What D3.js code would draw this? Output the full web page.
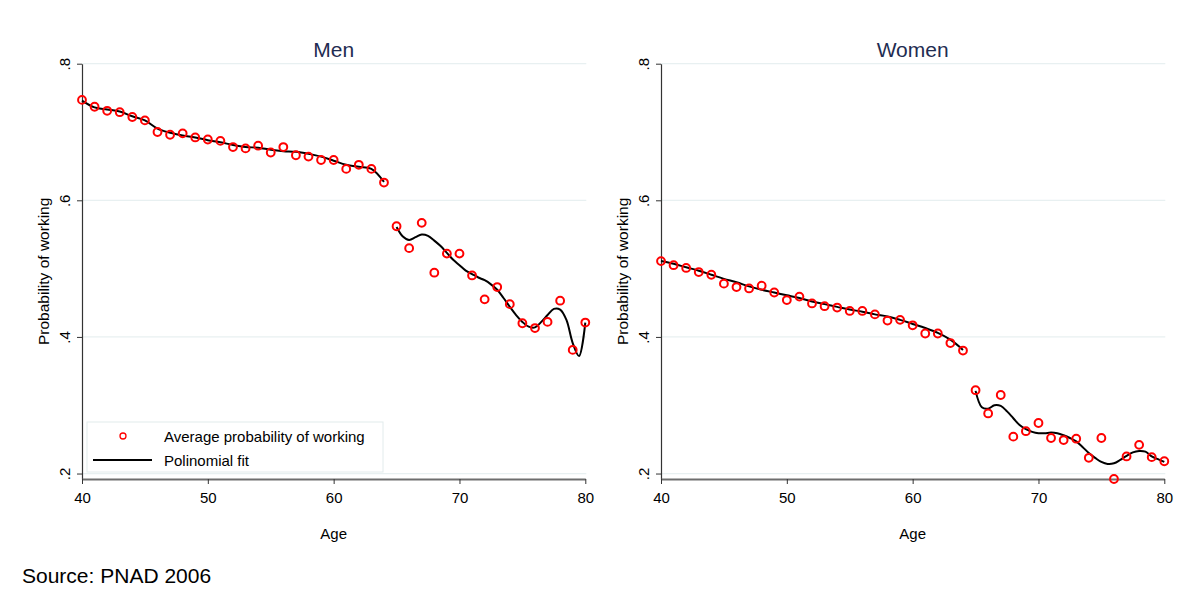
<!DOCTYPE html>
<html>
<head>
<meta charset="utf-8">
<script src="https://cdn.jsdelivr.net/npm/d3@7"></script>
<style>
  body { margin: 0; background: #fff; }
  svg text { font-family: "Liberation Sans", Arial, sans-serif; fill: #000; }
</style>
</head>
<body>
<div id="chart"></div>
<script>
// ages 40..80
const ages = d3.range(40, 81);

// average probability of working
const menAvg = [0.747, 0.737, 0.731, 0.729, 0.722, 0.717, 0.700, 0.696, 0.698, 0.692,
  0.689, 0.687, 0.678, 0.676, 0.680, 0.670, 0.678, 0.666, 0.664, 0.659,
  0.659, 0.646, 0.652, 0.646, 0.626, 0.562, 0.530, 0.567, 0.494, 0.522,
  0.522, 0.490, 0.455, 0.473, 0.448, 0.420, 0.413, 0.422, 0.453, 0.381, 0.421];
const womenAvg = [0.511, 0.505, 0.501, 0.495, 0.491, 0.478, 0.473, 0.471, 0.475, 0.465,
  0.454, 0.459, 0.449, 0.445, 0.443, 0.438, 0.438, 0.433, 0.424, 0.425,
  0.417, 0.405, 0.405, 0.391, 0.380, 0.322, 0.288, 0.315, 0.254, 0.262,
  0.274, 0.252, 0.249, 0.251, 0.223, 0.252, 0.192, 0.225, 0.242, 0.224, 0.218];

// polynomial fit, before and after 65
const fitAgesPre = d3.range(40, 65);
const menFitPre = [0.746, 0.736, 0.733, 0.730, 0.723, 0.717, 0.705, 0.699, 0.695, 0.692,
  0.688, 0.685, 0.681, 0.678, 0.677, 0.674, 0.672, 0.671, 0.668, 0.664,
  0.658, 0.652, 0.649, 0.646, 0.627];
const womenFitPre = [0.511, 0.507, 0.502, 0.497, 0.491, 0.485, 0.480, 0.474, 0.469, 0.465,
  0.461, 0.457, 0.452, 0.448, 0.444, 0.440, 0.437, 0.433, 0.430, 0.425,
  0.419, 0.413, 0.406, 0.396, 0.381];
const fitAgesPost = d3.range(65, 80.5, 0.5);
const menFitPost = [0.561, 0.547, 0.542, 0.546, 0.550, 0.548, 0.541, 0.533, 0.523, 0.513,
  0.505, 0.497, 0.492, 0.487, 0.483, 0.477, 0.469, 0.457, 0.444, 0.432,
  0.422, 0.415, 0.414, 0.422, 0.432, 0.441, 0.440, 0.425, 0.391, 0.372, 0.421];
const womenFitPost = [0.321, 0.297, 0.295, 0.300, 0.299, 0.291, 0.281, 0.271, 0.265, 0.261,
  0.259, 0.259, 0.260, 0.259, 0.256, 0.252, 0.247, 0.239, 0.230, 0.223,
  0.217, 0.214, 0.215, 0.220, 0.226, 0.231, 0.233, 0.232, 0.225, 0.221, 0.217];

const yTicks = [0.2, 0.4, 0.6, 0.8];
const xTicks = [40, 50, 60, 70, 80];

const width = 1189, height = 596;
const plotTop = 63.7, plotBottom = 479;

const svg = d3.select('#chart').append('svg')
  .attr('width', width).attr('height', height);

const yScale = d3.scaleLinear().domain([0.192, 0.8]).range([plotBottom, plotTop]);

const panels = [
  {title: 'Men', left: 82, right: 585.3, avg: menAvg, pre: menFitPre, post: menFitPost, legend: true},
  {title: 'Women', left: 661, right: 1164.3, avg: womenAvg, pre: womenFitPre, post: womenFitPost, legend: false}
];

panels.forEach((p) => {
  const xScale = d3.scaleLinear().domain([40, 80]).range([p.left, p.right]);
  const g = svg.append('g');
  const mid = (p.left + p.right) / 2;

  // gridlines
  g.selectAll('.grid').data(yTicks).enter().append('line')
    .attr('x1', p.left).attr('x2', p.right + 1)
    .attr('y1', (d) => yScale(d)).attr('y2', (d) => yScale(d))
    .attr('stroke', '#e8f0f1').attr('stroke-width', 1.2);

  // y axis
  const yAxisG = g.append('g')
    .attr('transform', `translate(${p.left},0)`)
    .call(d3.axisLeft(yScale).tickValues(yTicks).tickSize(5).tickSizeOuter(0)
      .tickFormat((d) => d3.format('.1f')(d).replace(/^0/, '')));
  yAxisG.select('.domain').attr('stroke', '#333').attr('stroke-width', 1.2);
  yAxisG.selectAll('.tick line').attr('stroke', '#333');
  yAxisG.selectAll('.tick text')
    .attr('x', null).attr('dy', null)
    .attr('transform', 'translate(-12,0) rotate(-90)')
    .attr('text-anchor', 'middle')
    .style('font-family', '"Liberation Sans", Arial, sans-serif')
    .style('font-size', '15px').attr('fill', '#000');

  // x axis
  const xAxisG = g.append('g')
    .attr('transform', `translate(0,${plotBottom})`)
    .call(d3.axisBottom(xScale).tickValues(xTicks).tickSize(5).tickSizeOuter(0));
  xAxisG.select('.domain').attr('stroke', '#6e6e6e').attr('stroke-width', 2);
  xAxisG.selectAll('.tick line').attr('stroke', '#333');
  xAxisG.selectAll('.tick text')
    .attr('y', 24).attr('dy', null)
    .style('font-family', '"Liberation Sans", Arial, sans-serif')
    .style('font-size', '15px').attr('fill', '#000');

  // titles
  g.append('text').attr('x', mid).attr('y', 57)
    .attr('text-anchor', 'middle').style('font-size', '21px')
    .style('fill', '#1f2d52').text(p.title);
  g.append('text').attr('x', mid).attr('y', 539)
    .attr('text-anchor', 'middle').style('font-size', '15px').text('Age');
  g.append('text')
    .attr('transform', `translate(${p.left - 33},${(plotTop + plotBottom) / 2}) rotate(-90)`)
    .attr('text-anchor', 'middle').style('font-size', '15.5px').text('Probability of working');

  // fit lines
  const line = d3.line().x((d) => xScale(d[0])).y((d) => yScale(d[1]))
    .curve(d3.curveCatmullRom.alpha(0.5));
  g.append('path').datum(fitAgesPre.map((a, i) => [a, p.pre[i]]))
    .attr('d', line).attr('fill', 'none').attr('stroke', '#000').attr('stroke-width', 2);
  g.append('path').datum(fitAgesPost.map((a, i) => [a, p.post[i]]))
    .attr('d', line).attr('fill', 'none').attr('stroke', '#000').attr('stroke-width', 2);

  // markers
  g.selectAll('.pt').data(ages.map((a, i) => [a, p.avg[i]])).enter().append('circle')
    .attr('cx', (d) => xScale(d[0])).attr('cy', (d) => yScale(d[1]))
    .attr('r', 3.9).attr('fill', 'none').attr('stroke', '#ff0000').attr('stroke-width', 2);

  if (p.legend) {
    const lg = g.append('g').attr('transform', 'translate(87,422)');
    lg.append('rect').attr('width', 296).attr('height', 50)
      .attr('fill', '#fff').attr('stroke', '#e2ebec').attr('stroke-width', 1);
    lg.append('circle').attr('cx', 36).attr('cy', 14).attr('r', 3)
      .attr('fill', 'none').attr('stroke', '#ff0000').attr('stroke-width', 1.3);
    lg.append('line').attr('x1', 6).attr('x2', 65).attr('y1', 38).attr('y2', 38)
      .attr('stroke', '#000').attr('stroke-width', 2);
    lg.append('text').attr('x', 77).attr('y', 20).style('font-size', '15px')
      .text('Average probability of working');
    lg.append('text').attr('x', 77).attr('y', 44).style('font-size', '15px')
      .text('Polinomial fit');
  }
});

svg.append('text').attr('x', 22).attr('y', 583).style('font-size', '21px')
  .text('Source: PNAD 2006');
</script>
</body>
</html>
